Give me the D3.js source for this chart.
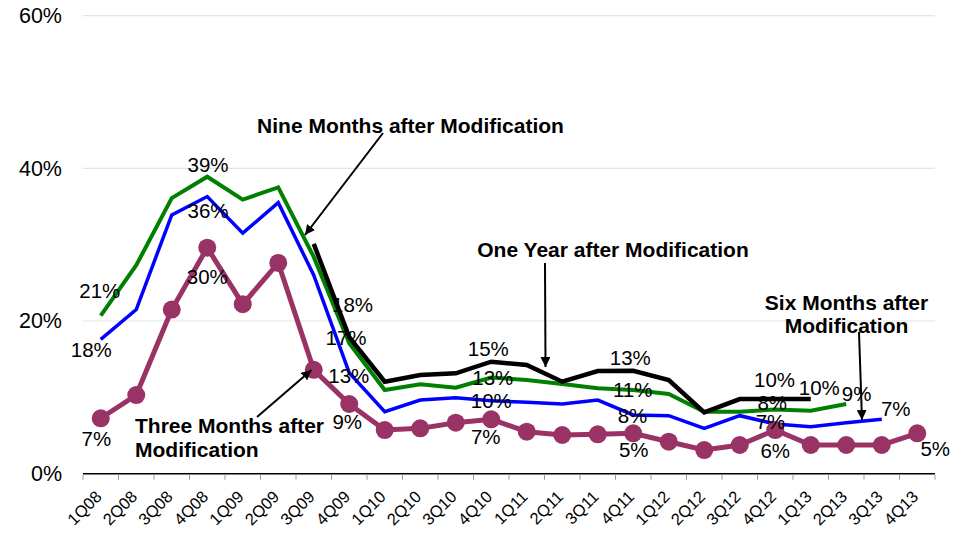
<!DOCTYPE html>
<html>
<head>
<meta charset="utf-8">
<script src="https://cdn.jsdelivr.net/npm/d3@7/dist/d3.min.js"></script>
<style>
  html, body { margin: 0; padding: 0; background: #fff; }
  svg { display: block; font-family: "Liberation Sans", Arial, sans-serif; }
</style>
</head>
<body>
<svg id="chart" width="970" height="537"></svg>
<script>
// ---------------- DATA ----------------
const categories = ["1Q08","2Q08","3Q08","4Q08","1Q09","2Q09","3Q09","4Q09",
  "1Q10","2Q10","3Q10","4Q10","1Q11","2Q11","3Q11","4Q11",
  "1Q12","2Q12","3Q12","4Q12","1Q13","2Q13","3Q13","4Q13"];

const threeMonths = [7.26, 10.3, 21.5, 29.6, 22.2, 27.6, 13.6, 9.13, 5.72, 5.94, 6.68, 7.12,
  5.5, 5.07, 5.16, 5.29, 4.19, 3.1, 3.76, 5.72, 3.76, 3.76, 3.76, 5.29];
const sixMonths = [17.6, 21.5, 33.9, 36.3, 31.5, 35.5, 26.0, 13.2, 8.12, 9.65, 9.96, 9.56,
  9.35, 9.13, 9.65, 7.69, 7.6, 5.94, 7.6, 6.51, 6.16, 6.68, 7.12, null];
const nineMonths = [20.7, 27.3, 36.1, 38.9, 35.9, 37.5, 28.4, 17.1, 10.96, 11.7, 11.27, 12.6,
  12.27, 11.75, 11.18, 10.96, 10.44, 8.12, 8.12, 8.4, 8.25, 9.13, null, null];
const oneYear = [null, null, null, null, null, null, 30.1, 17.9, 12.05, 12.93, 13.15, 14.67,
  14.24, 12.05, 13.45, 13.49, 12.27, 8.04, 9.78, 9.78, 9.78, null, null, null];

const yTicks = [0, 20, 40, 60];

// labelled points: [series key, category]
const labelledPoints = [
  ["nine","1Q08"],["six","1Q08"],["three","1Q08"],
  ["nine","4Q08"],["six","4Q08"],["three","4Q08"],
  ["year","4Q09"],["nine","4Q09"],["six","4Q09"],["three","4Q09"],
  ["year","4Q10"],["nine","4Q10"],["six","4Q10"],["three","4Q10"],
  ["year","4Q11"],["nine","4Q11"],["six","4Q11"],["three","4Q11"],
  ["year","4Q12"],["nine","4Q12"],["six","4Q12"],["three","4Q12"],
  ["year","1Q13"],["nine","2Q13"],["six","3Q13"],["three","4Q13"]
];

const annotationTexts = {
  nine: ["Nine Months after Modification"],
  year: ["One Year after Modification"],
  six: ["Six Months after", "Modification"],
  three: ["Three Months after", "Modification"]
};

// ---------------- LAYOUT / STYLE ----------------
const seriesStyle = {
  three: { values: threeMonths, color: "#993366", width: 5 },
  six:   { values: sixMonths,   color: "#0000ff", width: 3.5 },
  nine:  { values: nineMonths,  color: "#008000", width: 4 },
  year:  { values: oneYear,     color: "#000000", width: 4.5 }
};
const drawOrder = ["nine", "six", "year", "three"];

// label offsets (dx, dy) relative to the point: centre x / baseline
const labelOffsets = [
  [-1,-17.4],[-9.5,17.4],[-4.4,27.7],
  [0.75,-5],[0.75,21.8],[0,36.3],
  [3.25,-25.3],[-3.25,2],[-0.5,10.4],[-2,25.3],
  [-3,-5.7],[1.5,7.5],[0,7.6],[-5.5,25],
  [-3,-5.7],[-0.5,6.7],[-0.75,8.3],[0.5,23.3],
  [-0.75,-11.7],[-3,0],[-4.75,5.3],[0,28.3],
  [8.5,-4],[10.4,-3.3],[14,-3.3],[18,22.7]
];

const annotationLayout = {
  nine:  { x: 410.5, y: 133, anchor: "middle", line: [[383, 133], [305, 235]] },
  year:  { x: 613, y: 256.5, anchor: "middle", line: [[545, 263], [545.5, 367]] },
  six:   { x: 846.5, y: 309.5, anchor: "middle", line: [[859, 332], [862, 420]] },
  three: { x: 135, y: 433.3, anchor: "start", line: [[257, 417], [311.5, 370]] }
};

const margin = { left: 83, right: 935, top: 15.6, bottom: 473.7 };

const svg = d3.select("#chart");

const x = d3.scaleBand().domain(categories).range([margin.left, margin.right]).padding(0);
const cx = c => x(c) + x.bandwidth() / 2;
const y = d3.scaleLinear().domain([0, 60]).range([margin.bottom, margin.top]);

// gridlines
svg.append("g").selectAll("line").data(yTicks.filter(t => t > 0)).join("line")
  .attr("x1", margin.left).attr("x2", margin.right)
  .attr("y1", d => y(d)).attr("y2", d => y(d))
  .attr("stroke", "#e4e4e4").attr("stroke-width", 1.2);

// y axis labels
const yAxis = d3.axisLeft(y).tickValues(yTicks).tickFormat(d => d + "%").tickSize(0).tickPadding(21);
const gy = svg.append("g").attr("transform", `translate(${margin.left},0)`).call(yAxis);
gy.select(".domain").remove();
gy.selectAll("text").attr("font-size", 21.5).attr("fill", "#000")
  .attr("font-family", "'Liberation Sans', Arial, sans-serif");

// x axis
const gx = svg.append("g").attr("transform", `translate(0,${margin.bottom})`);
gx.append("line").attr("x1", margin.left).attr("x2", margin.right)
  .attr("y1", 0).attr("y2", 0).attr("stroke", "#000").attr("stroke-width", 1.5);
const boundaries = categories.map(c => x(c)).concat([margin.right]);
gx.selectAll("line.tick").data(boundaries).join("line").attr("class", "tick")
  .attr("x1", d => d).attr("x2", d => d).attr("y1", 1).attr("y2", 6)
  .attr("stroke", "#999").attr("stroke-width", 1);
gx.selectAll("text.xlab").data(categories).join("text").attr("class", "xlab")
  .attr("transform", d => `translate(${cx(d) + 2},${24}) rotate(-45)`)
  .attr("text-anchor", "end")
  .style("font-size", "16.5px")
  .attr("fill", "#000")
  .text(d => d);

// lines
const lineGen = d3.line()
  .defined(d => d.v !== null)
  .x(d => cx(d.c))
  .y(d => y(d.v));

drawOrder.forEach(key => {
  const s = seriesStyle[key];
  const pts = categories.map((c, i) => ({ c, v: s.values[i] }));
  svg.append("path").datum(pts)
    .attr("d", lineGen)
    .attr("fill", "none")
    .attr("stroke", s.color)
    .attr("stroke-width", s.width)
    .attr("stroke-linejoin", "miter");
  if (key === "three") {
    svg.append("g").selectAll("circle").data(pts.filter(p => p.v !== null)).join("circle")
      .attr("cx", d => cx(d.c)).attr("cy", d => y(d.v)).attr("r", 9)
      .attr("fill", s.color);
  }
});

// data labels
const fmt = d3.format(".0f");
svg.append("g").selectAll("text").data(labelledPoints).join("text")
  .attr("x", (d, i) => cx(d[1]) + labelOffsets[i][0])
  .attr("y", (d, i) => y(seriesStyle[d[0]].values[categories.indexOf(d[1])]) + labelOffsets[i][1])
  .attr("text-anchor", "middle")
  .attr("font-size", 20.5)
  .attr("fill", "#000")
  .text(d => fmt(seriesStyle[d[0]].values[categories.indexOf(d[1])]) + "%");

// arrow marker
svg.append("defs").append("marker")
  .attr("id", "arrow").attr("viewBox", "0 0 10 10")
  .attr("refX", 10).attr("refY", 5)
  .attr("markerWidth", 5).attr("markerHeight", 5)
  .attr("markerUnits", "strokeWidth")
  .attr("orient", "auto")
  .append("path").attr("d", "M0,0 L10,5 L0,10 z").attr("fill", "#000");

// annotations
Object.keys(annotationTexts).forEach(key => {
  const L = annotationLayout[key];
  svg.append("line")
    .attr("x1", L.line[0][0]).attr("y1", L.line[0][1])
    .attr("x2", L.line[1][0]).attr("y2", L.line[1][1])
    .attr("stroke", "#000").attr("stroke-width", 2)
    .attr("marker-end", "url(#arrow)");
  const t = svg.append("text")
    .attr("x", L.x).attr("y", L.y)
    .attr("text-anchor", L.anchor)
    .attr("font-size", 21).attr("font-weight", "bold").attr("fill", "#000");
  annotationTexts[key].forEach((line, i) => {
    t.append("tspan").attr("x", L.x).attr("dy", i === 0 ? 0 : 23.5).text(line);
  });
});
</script>
</body>
</html>
